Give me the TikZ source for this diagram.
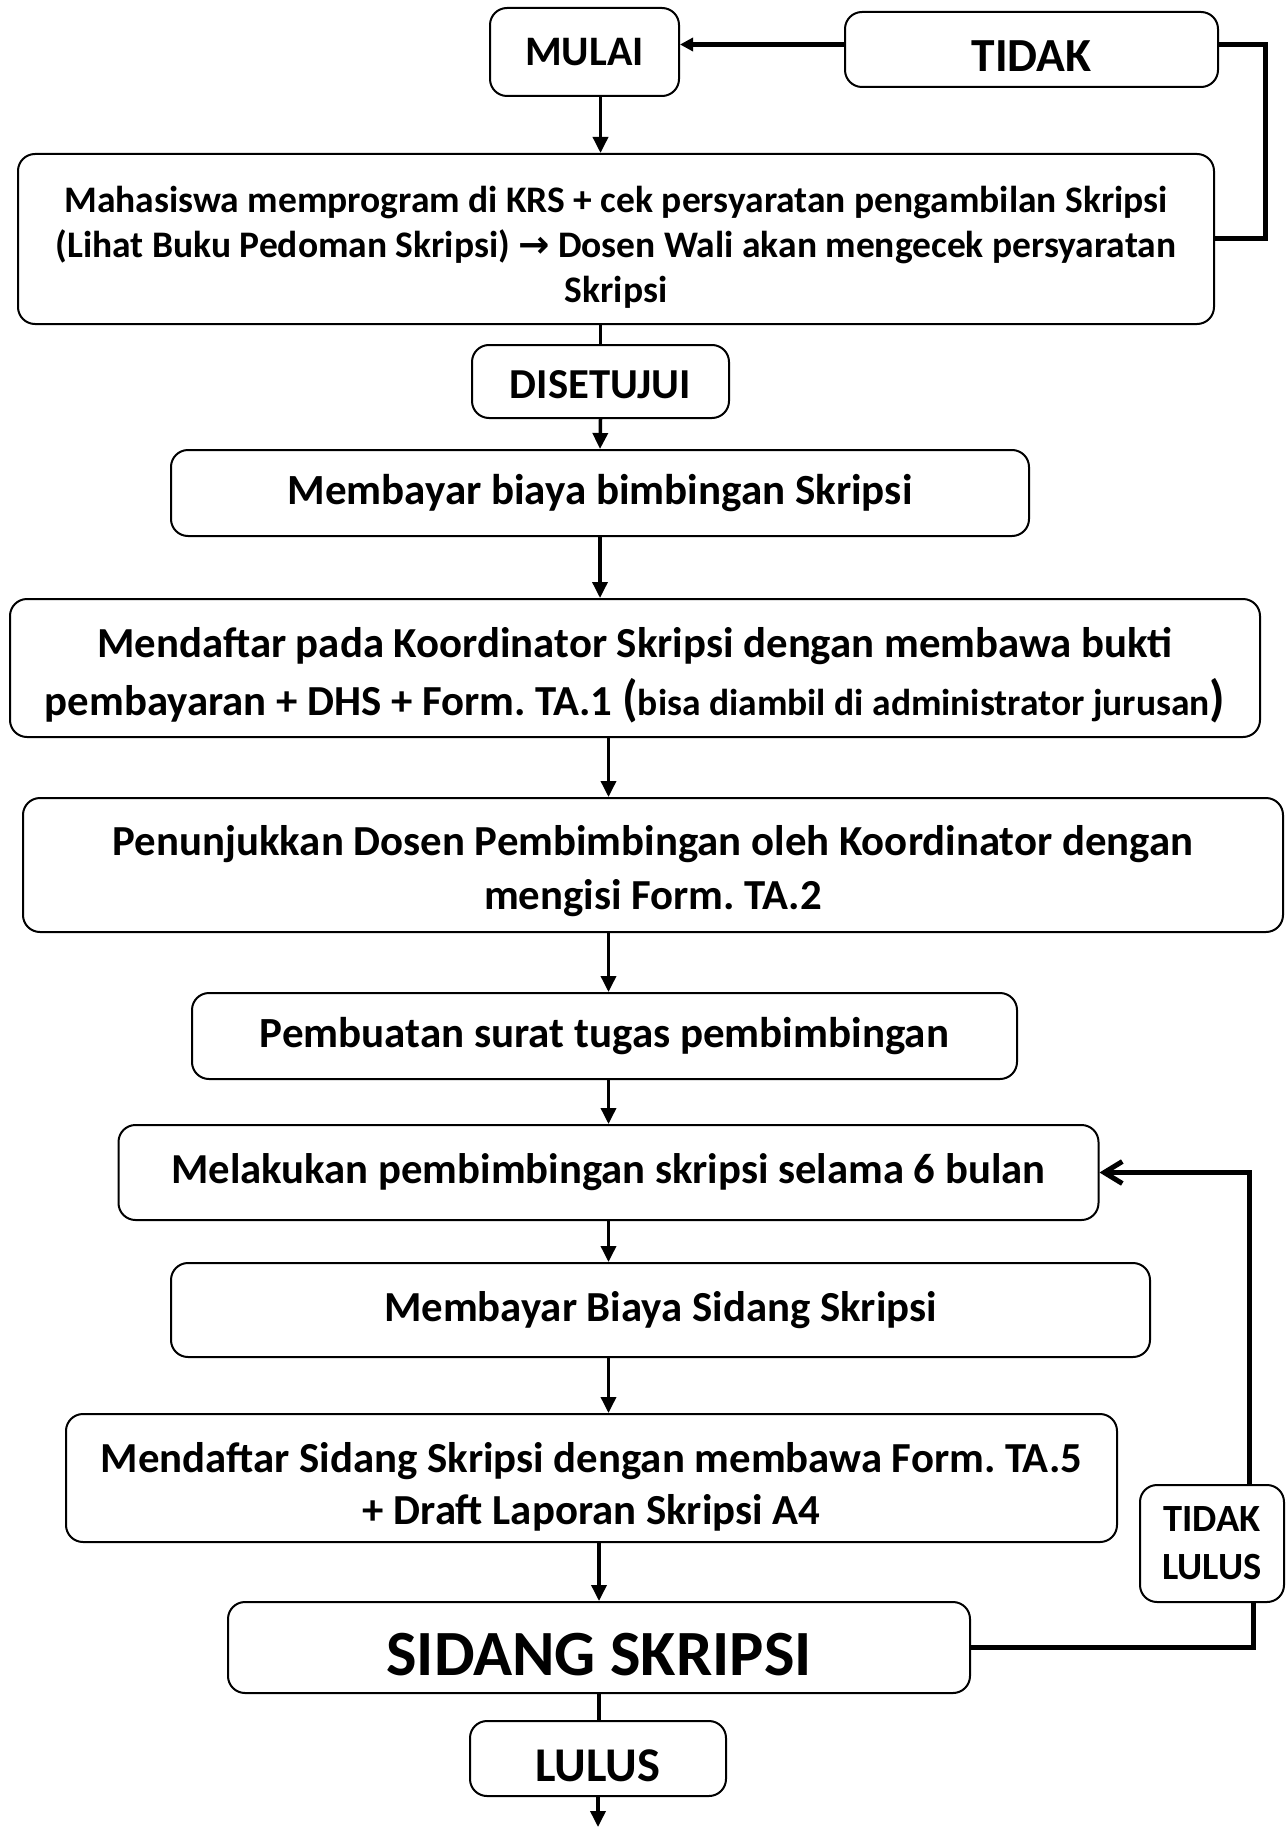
\documentclass[tikz,border=0pt]{standalone}
\usepackage{fontspec}
\setmainfont{Carlito}
\newfontfamily\simbol{DejaVu Sans}
\usetikzlibrary{arrows.meta}
\tikzstyle{kotak}=[draw, rounded corners = 17pt, line width = 2pt, align = center, inner sep = 0pt]
\tikzstyle{panah}=[line width = 3.5pt, -{Triangle[length = 16pt, width = 15pt]}]
\tikzstyle{garis}=[line width = 3.5pt]
\tikzstyle{balik}=[line width = 5pt]
\newcommand{\uk}[2]{\fontsize{#1}{#2}\selectfont\bfseries}
\newcommand{\turun}[1]{\rule{0pt}{#1}}
\frenchspacing

\begin{document}
\begin{tikzpicture}[x = 1pt, y = -1pt]
\useasboundingbox (0,0) rectangle (1286,1827);
\node (mulai) at (584.5,52) [kotak, minimum width = 189pt, minimum height = 88pt, font = \uk{42}{50}] {MULAI};
\node (tidak) at (1031.5,49.5) [kotak, minimum width = 373pt, minimum height = 75pt, font = \uk{47.5}{55}] {\turun{45pt}TIDAK};
\node (krs) at (616,239) [kotak, minimum width = 1196pt, minimum height = 170pt, font = \uk{37.5}{45}] {\turun{42pt}Mahasiswa memprogram di KRS + cek persyaratan pengambilan Skripsi\\(Lihat Buku Pedoman Skripsi) {\simbol\bfseries →} Dosen Wali akan mengecek persyaratan\\Skripsi};
\node (disetujui) at (600.5,381.5) [kotak, minimum width = 257pt, minimum height = 73pt, font = \uk{42.7}{50}] {\turun{34pt}DISETUJUI};
\node (bayar) at (600,493) [kotak, minimum width = 858pt, minimum height = 86pt, font = \uk{43}{50}] {Membayar biaya bimbingan Skripsi};
\node (daftar) at (635,668) [kotak, minimum width = 1250pt, minimum height = 138pt, font = \uk{42.8}{58}] {\turun{44pt}Mendaftar pada Koordinator Skripsi dengan membawa bukti\\pembayaran + DHS + Form. TA.1 {\uk{50}{58}(}{\uk{37.5}{58}bisa diambil di administrator jurusan}{\uk{50}{58})}};
\node (tunjuk) at (653,865) [kotak, minimum width = 1260pt, minimum height = 134pt, font = \uk{42.8}{54}] {\turun{42pt}Penunjukkan Dosen Pembimbingan oleh Koordinator dengan\\mengisi Form. TA.2};
\node (buat) at (604.5,1036) [kotak, minimum width = 825pt, minimum height = 86pt, font = \uk{43}{50}] {Pembuatan surat tugas pembimbingan};
\node (bimbing) at (608.5,1172.5) [kotak, minimum width = 980pt, minimum height = 95pt, font = \uk{42.7}{50}] {Melakukan pembimbingan skripsi selama 6 bulan};
\node (sidangbayar) at (660.5,1310) [kotak, minimum width = 979pt, minimum height = 94pt, font = \uk{42.8}{50}] {Membayar Biaya Sidang Skripsi};
\node (daftarsidang) at (591.5,1478) [kotak, minimum width = 1051pt, minimum height = 128pt, font = \uk{42.8}{52}] {\turun{48pt}Mendaftar Sidang Skripsi dengan membawa Form. TA.5\\+ Draft Laporan Skripsi A4};
\node (sidang) at (599,1647.5) [kotak, minimum width = 742pt, minimum height = 91pt, font = \uk{64.5}{72}] {\turun{57pt}SIDANG SKRIPSI};
\node (lulus) at (598,1758.5) [kotak, minimum width = 256pt, minimum height = 75pt, font = \uk{48.5}{56}] {\turun{47pt}LULUS};
\node (tidaklulus) at (1212,1543.5) [kotak, minimum width = 144pt, minimum height = 117pt, font = \uk{38.5}{48}] {TIDAK\\LULUS};
\coordinate (selesai) at (598,1827);
%%%%%%%%%%%%%%%%%%%%%%%
\draw [balik, -{Triangle[length = 13pt, width = 13pt]}] ([yshift = 5pt]tidak.west) -- ([yshift = 5pt]tidak.west -| mulai.east);
\draw [balik] ([yshift = 5pt]tidak.east) -- ++(46,0) |- (krs.east);
\draw [panah] (disetujui |- mulai.south) -- (disetujui |- krs.north);
\draw [garis] (disetujui |- krs.south) -- (disetujui.north);
\draw [panah] (disetujui.south) -- (bayar.north);
\draw [panah] (bayar.south) -- (bayar.south |- daftar.north);
\draw [panah] (bimbing |- daftar.south) -- (bimbing |- tunjuk.north);
\draw [panah] (bimbing |- tunjuk.south) -- (bimbing |- buat.north);
\draw [panah] (bimbing |- buat.south) -- (bimbing.north);
\draw [panah] (bimbing.south) -- (bimbing.south |- sidangbayar.north);
\draw [panah] (bimbing |- sidangbayar.south) -- (bimbing |- daftarsidang.north);
\draw [panah] (sidang |- daftarsidang.south) -- (sidang.north);
\draw [garis] (sidang.south) -- (sidang.south |- lulus.north);
\draw [panah] (lulus.south) -- (selesai);
%%%%%%%%%%%%%%%%%%%%%%%
\draw [balik] (sidang.east) -| ([xshift = 41pt]tidaklulus.south);
\draw [balik, -{Straight Barb[length = 18pt, width = 22pt]}] ([xshift = 37pt]tidaklulus.north) |- (bimbing.east);
\end{tikzpicture}
\end{document}
